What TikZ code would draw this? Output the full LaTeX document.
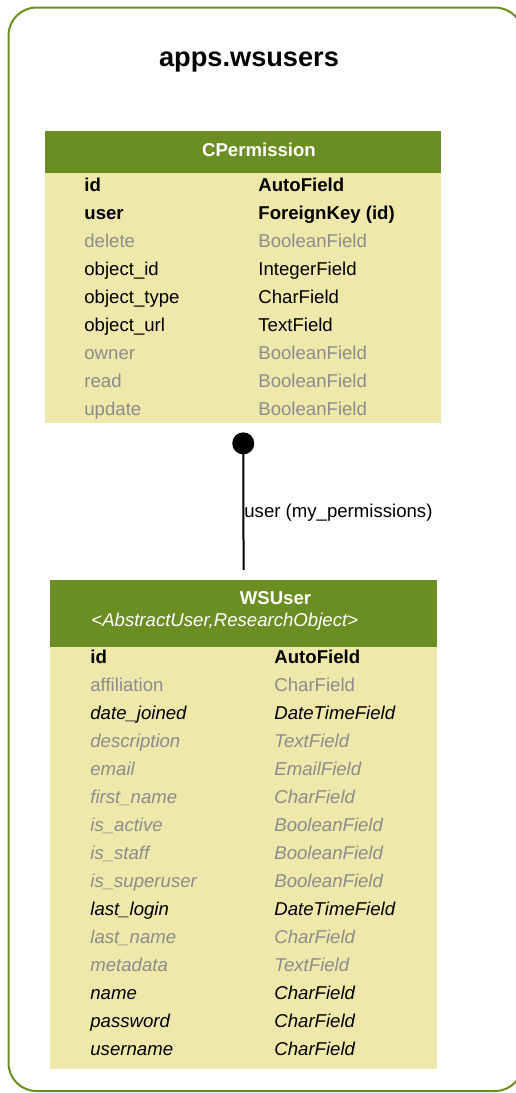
\documentclass[tikz,border=0pt]{standalone}
\usepackage{fontspec}
\setmainfont{Liberation Sans}
\usetikzlibrary{arrows.meta}

\definecolor{modelgreen}{RGB}{107,142,35}
\definecolor{modelbody}{RGB}{238,232,170}
\definecolor{inhgray}{RGB}{140,140,140}
\newcommand{\fieldsize}{\fontsize{9.3}{11}\selectfont}

\begin{document}
\begin{tikzpicture}[x=.5pt, y=-.5pt]
            \tikzstyle{cluster} = [draw=modelgreen, line width=1pt, rounded corners=14pt]
            \tikzstyle{head} = [fill=modelgreen, inner sep=0, anchor=north west]
            \tikzstyle{body} = [fill=modelbody, inner sep=0, anchor=north west]
            \tikzstyle{modelname} = [inner sep=0, anchor=base, text=white, font=\fieldsize\bfseries]
            \tikzstyle{keyfield} = [inner sep=0, anchor=base west, font=\fieldsize\bfseries]
            \tikzstyle{plainfield} = [inner sep=0, anchor=base west, font=\fieldsize]
            \tikzstyle{grayfield} = [plainfield, text=inhgray]
            \tikzstyle{inhfield} = [inner sep=0, anchor=base west, font=\fieldsize\itshape]
            \tikzstyle{inhgrayfield} = [inhfield, text=inhgray]

            \useasboundingbox (0,0) rectangle (515,1093);

            % app cluster
            \draw [cluster] (8.5,7.5) rectangle (523,1091);
            \node [inner sep=0, anchor=base, font=\fontsize{13.6}{16}\selectfont\bfseries] (app) at (249,66) {apps.wsusers};

            % CPermission
            \node [head, minimum width=197.8pt, minimum height=21pt] (cpermhead) at (45,131) {};
            \node [body, minimum width=197.8pt, minimum height=125pt] (cperm) at (45,173) {};
            \node [modelname] (cpermname) at (259,156) {CPermission};
            \node [keyfield] (cp-id) at (84,191) {id};
            \node [keyfield] (cp-id-t) at (258,191) {AutoField};
            \node [keyfield] (cp-user) at (84,219) {user};
            \node [keyfield] (cp-user-t) at (258,219) {ForeignKey (id)};
            \node [grayfield] (cp-delete) at (84,247) {delete};
            \node [grayfield] (cp-delete-t) at (258,247) {BooleanField};
            \node [plainfield] (cp-oid) at (84,275) {object\_id};
            \node [plainfield] (cp-oid-t) at (258,275) {IntegerField};
            \node [plainfield] (cp-otype) at (84,303) {object\_type};
            \node [plainfield] (cp-otype-t) at (258,303) {CharField};
            \node [plainfield] (cp-ourl) at (84,331) {object\_url};
            \node [plainfield] (cp-ourl-t) at (258,331) {TextField};
            \node [grayfield] (cp-owner) at (84,359) {owner};
            \node [grayfield] (cp-owner-t) at (258,359) {BooleanField};
            \node [grayfield] (cp-read) at (84,387) {read};
            \node [grayfield] (cp-read-t) at (258,387) {BooleanField};
            \node [grayfield] (cp-update) at (84,415) {update};
            \node [grayfield] (cp-update-t) at (258,415) {BooleanField};

            % WSUser
            \node [head, minimum width=193.7pt, minimum height=33.3pt] (wsuserhead) at (49.5,580) {};
            \node [body, minimum width=193.7pt, minimum height=210.7pt] (wsuser) at (49.5,646.7) {};
            \node [modelname] (wsusername) at (275.5,604) {WSUser};
            \node [inner sep=0, anchor=base west, text=white, font=\fieldsize\itshape] (wsuserbases) at (91,626) {<AbstractUser,ResearchObject>};
            \node [keyfield] (ws-id) at (90,663) {id};
            \node [keyfield] (ws-id-t) at (274,663) {AutoField};
            \node [grayfield] (ws-aff) at (90,691) {affiliation};
            \node [grayfield] (ws-aff-t) at (274,691) {CharField};
            \node [inhfield] (ws-joined) at (90,719) {date\_joined};
            \node [inhfield] (ws-joined-t) at (274,719) {DateTimeField};
            \node [inhgrayfield] (ws-desc) at (90,747) {description};
            \node [inhgrayfield] (ws-desc-t) at (274,747) {TextField};
            \node [inhgrayfield] (ws-email) at (90,775) {email};
            \node [inhgrayfield] (ws-email-t) at (274,775) {EmailField};
            \node [inhgrayfield] (ws-first) at (90,803) {first\_name};
            \node [inhgrayfield] (ws-first-t) at (274,803) {CharField};
            \node [inhgrayfield] (ws-active) at (90,831) {is\_active};
            \node [inhgrayfield] (ws-active-t) at (274,831) {BooleanField};
            \node [inhgrayfield] (ws-staff) at (90,859) {is\_staff};
            \node [inhgrayfield] (ws-staff-t) at (274,859) {BooleanField};
            \node [inhgrayfield] (ws-super) at (90,887) {is\_superuser};
            \node [inhgrayfield] (ws-super-t) at (274,887) {BooleanField};
            \node [inhfield] (ws-login) at (90,915) {last\_login};
            \node [inhfield] (ws-login-t) at (274,915) {DateTimeField};
            \node [inhgrayfield] (ws-last) at (90,943) {last\_name};
            \node [inhgrayfield] (ws-last-t) at (274,943) {CharField};
            \node [inhgrayfield] (ws-meta) at (90,971) {metadata};
            \node [inhgrayfield] (ws-meta-t) at (274,971) {TextField};
            \node [inhfield] (ws-name) at (90,999) {name};
            \node [inhfield] (ws-name-t) at (274,999) {CharField};
            \node [inhfield] (ws-pass) at (90,1027) {password};
            \node [inhfield] (ws-pass-t) at (274,1027) {CharField};
            \node [inhfield] (ws-uname) at (90,1055) {username};
            \node [inhfield] (ws-uname-t) at (274,1055) {CharField};

            % user relation
            \draw [line width=1pt, {Circle[length=11pt]}-, shorten <=4.3pt, shorten >=5pt] (cperm.south) -- (wsuserhead.north);
            \node [plainfield] (userrel) at (244,517) {user (my\_permissions)};
\end{tikzpicture}
\end{document}
